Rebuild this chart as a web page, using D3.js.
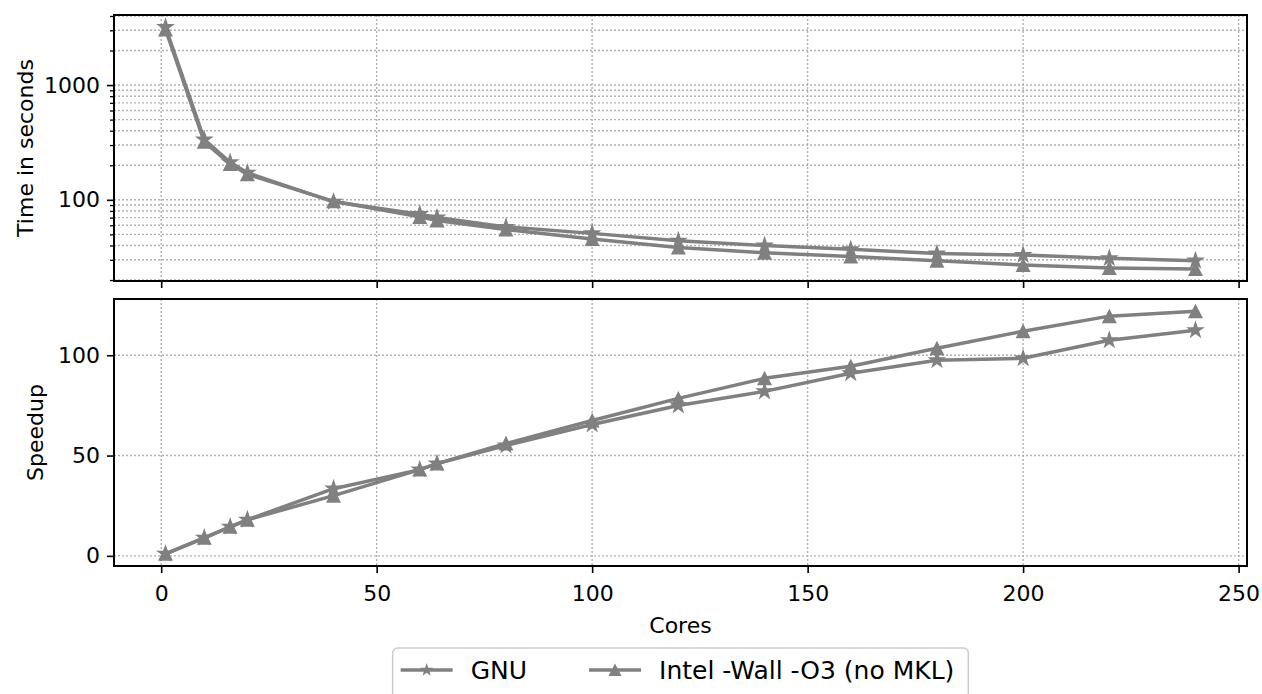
<!DOCTYPE html>
<html lang="en">
<head>
  <meta charset="UTF-8">
  <script src="https://d3js.org/d3.v7.min.js"></script>
  <title>Cores scaling</title>
  <style>
  body {
    margin: 0;
    background: #fff;
    font-family: "DejaVu Sans", sans-serif;
  }
  .grid line {
    stroke: #b0b0b0;
    stroke-width: 1.4px;
    stroke-dasharray: 2,2;
  }
  .frame {
    fill: none;
    stroke: #000;
    stroke-width: 2px;
  }
  .series {
    fill: none;
    stroke: #808080;
    stroke-width: 3.5px;
    stroke-linejoin: round;
  }
  .label {
    font-size: 22px;
  }
  .legtext {
    font-size: 25px;
  }
  </style>
</head>
<body>
<svg id="chart" width="1262" height="694"></svg>
<script>
// data
const cores = [1, 10, 16, 20, 40, 60, 64, 80, 100, 120, 140, 160, 180, 200, 220, 240];
const gnuTime = [3200, 335, 212, 172, 96, 75, 70, 58, 51, 44, 40, 37, 34, 33, 31, 29.5];
const intelTime = [3050, 320, 205, 167, 97, 71, 66, 55, 45.5, 38.5, 34.5, 32, 29.5, 27, 25.5, 25];
const gnuSpeed = [1, 9, 14.5, 18, 33.5, 43, 46, 55, 65.5, 75, 82, 91, 97.5, 98.5, 107.5, 112.5];
const intelSpeed = [1, 9, 14.5, 18, 30, 43, 46, 56, 67.5, 78.5, 88.5, 94.5, 103.5, 112, 119.5, 122];
const seriesNames = ["GNU", "Intel -Wall -O3 (no MKL)"];
const xTicks = [0, 50, 100, 150, 200, 250];
const timeTicks = [100, 1000];
const speedTicks = [0, 50, 100];

const svg = d3.select("#chart");
const left = 114, right = 1247;
const top1 = 15, bottom1 = 281;
const top2 = 299, bottom2 = 566;
const grey = "#808080";

// matplotlib style 5% padding
function pad(lo, hi) {
  let d = (hi - lo) * 0.05;
  return [lo - d, hi + d];
}

let x = d3.scaleLinear().domain(pad(d3.min(cores), d3.max(cores))).range([left, right]);

let allTime = gnuTime.concat(intelTime);
let lt = pad(Math.log10(d3.min(allTime)), Math.log10(d3.max(allTime)));
let yTime = d3.scaleLog().domain([Math.pow(10, lt[0]), Math.pow(10, lt[1])]).range([bottom1, top1]);

let allSpeed = gnuSpeed.concat(intelSpeed);
let ySpeed = d3.scaleLinear().domain(pad(d3.min(allSpeed), d3.max(allSpeed))).range([bottom2, top2]);

// minor log ticks inside domain
let minor = [];
[10, 100, 1000].forEach(function(dec) {
  for (let k = 2; k <= 9; k++) {
    let v = dec * k;
    if (v >= yTime.domain()[0] && v <= yTime.domain()[1]) minor.push(v);
  }
});

function drawPanel(y, top, bottom, major, minorVals) {
  let g = svg.append("g");
  let grid = g.append("g").attr("class", "grid");
  xTicks.forEach(function(t) {
    grid.append("line").attr("x1", x(t)).attr("x2", x(t)).attr("y1", top).attr("y2", bottom);
  });
  major.concat(minorVals).forEach(function(t) {
    grid.append("line").attr("x1", left).attr("x2", right).attr("y1", y(t)).attr("y2", y(t));
  });
  g.append("rect").attr("class", "frame")
    .attr("x", left).attr("y", top).attr("width", right - left).attr("height", bottom - top);

  let yAx = d3.axisLeft(y).tickValues(major).tickSize(7).tickPadding(7).tickFormat(d3.format("d"));
  let ya = g.append("g").attr("transform", "translate(" + left + ",0)").call(yAx);
  ya.select(".domain").remove();
  ya.selectAll(".tick line").attr("stroke-width", 1.6);
  if (minorVals.length) {
    let ym = g.append("g").attr("transform", "translate(" + left + ",0)")
      .call(d3.axisLeft(y).tickValues(minorVals).tickSize(4).tickFormat(""));
    ym.select(".domain").remove();
    ym.selectAll(".tick line").attr("stroke-width", 1.3);
  }
  return g;
}

function drawSeries(g, y, vals, shape) {
  let pts = cores.map((c, i) => [c, vals[i]]);
  g.append("path").attr("class", "series")
    .attr("d", d3.line().x(d => x(d[0])).y(d => y(d[1]))(pts));
  g.selectAll(null).data(pts).enter().append("path")
    .attr("d", shape)
    .attr("transform", d => "translate(" + x(d[0]) + "," + y(d[1]) + ")")
    .attr("fill", grey);
}

const starPath = d3.symbol(d3.symbolStar, 110)();
const triPath = "M0,-7.5L7.5,7L-7.5,7Z";

let p1 = drawPanel(yTime, top1, bottom1, timeTicks, minor);
let xa1 = p1.append("g").attr("transform", "translate(0," + bottom1 + ")")
  .call(d3.axisBottom(x).tickValues(xTicks).tickSize(7).tickFormat(""));
xa1.select(".domain").remove();
xa1.selectAll(".tick line").attr("stroke-width", 1.6);
drawSeries(p1, yTime, gnuTime, starPath);
drawSeries(p1, yTime, intelTime, triPath);

let p2 = drawPanel(ySpeed, top2, bottom2, speedTicks, []);
let xa2 = p2.append("g").attr("transform", "translate(0," + bottom2 + ")")
  .call(d3.axisBottom(x).tickValues(xTicks).tickSize(7).tickPadding(12));
xa2.select(".domain").remove();
xa2.selectAll(".tick line").attr("stroke-width", 1.6);
drawSeries(p2, ySpeed, gnuSpeed, starPath);
drawSeries(p2, ySpeed, intelSpeed, triPath);

svg.selectAll(".tick text")
  .style("font-family", "'DejaVu Sans', sans-serif")
  .style("font-size", "22px")
  .attr("fill", "#000");

// axis labels
svg.append("text").attr("class", "label")
  .attr("transform", "translate(33," + (top1 + bottom1) / 2 + ") rotate(-90)")
  .attr("text-anchor", "middle").text("Time in seconds");
svg.append("text").attr("class", "label")
  .attr("transform", "translate(43," + (top2 + bottom2) / 2 + ") rotate(-90)")
  .attr("text-anchor", "middle").text("Speedup");
svg.append("text").attr("class", "label")
  .attr("x", (left + right) / 2).attr("y", 633)
  .attr("text-anchor", "middle").text("Cores");

// legend, centred under the axes
let lg = svg.append("g");
let box = lg.append("rect").attr("y", 648).attr("height", 60).attr("rx", 5)
  .attr("fill", "#fff").attr("stroke", "#cccccc").attr("stroke-width", 1.5);
let cx = 8;
let colGap = 62;
let shapes = [d3.symbol(d3.symbolStar, 55)(), "M0,-6.5L6.5,6L-6.5,6Z"];
let inner = lg.append("g");
seriesNames.forEach(function(name, i) {
  inner.append("line").attr("x1", cx).attr("x2", cx + 52).attr("y1", 670).attr("y2", 670)
    .attr("stroke", grey).attr("stroke-width", 3.5);
  inner.append("path").attr("d", shapes[i]).attr("fill", grey)
    .attr("transform", "translate(" + (cx + 26) + ",670)");
  let t = inner.append("text").attr("class", "legtext").attr("x", cx + 70).attr("y", 679).text(name);
  cx += 70 + t.node().getComputedTextLength() + colGap;
});
let boxW = cx - colGap + 14;
let bx = (left + right) / 2 - boxW / 2;
box.attr("x", bx).attr("width", boxW);
inner.attr("transform", "translate(" + bx + ",0)");
</script>
</body>
</html>
